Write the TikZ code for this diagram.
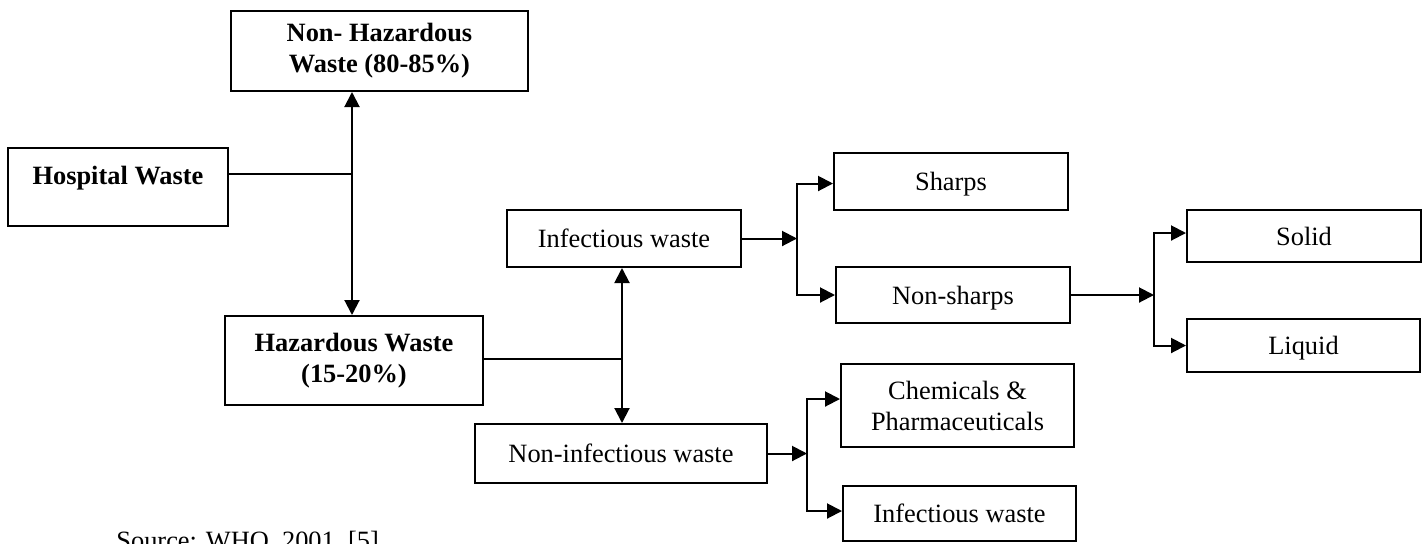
\documentclass[tikz,border=0pt]{standalone}
\usepackage{fontspec}
\setmainfont{Liberation Serif}
\usetikzlibrary{arrows.meta}
\newcommand\diagfont{\fontsize{13.2}{15.5}\selectfont}
\begin{document}
\begin{tikzpicture}[x=0.5pt,y=-0.5pt,
  box/.style={draw, line width=1pt, inner sep=0pt, font=\diagfont, align=center},
  bbox/.style={box, font=\diagfont\bfseries},
  one/.style={text height=9pt, text depth=0pt},
  arr/.style={line width=1pt, -{Triangle[length=7.5pt,width=7.5pt]}},
  conn/.style={line width=1pt}]
\useasboundingbox (0,0) rectangle (1425,543);
% nodes
\node[bbox, minimum width=148.5pt, minimum height=40pt] (nh) at (379.5,51) {Non- Hazardous\\Waste (80-85\%)};
\node[bbox, minimum width=110pt, minimum height=39pt, text height=9pt, text depth=12pt] (hosp) at (118,187) {Hospital Waste};
\node[bbox, minimum width=129pt, minimum height=44.5pt] (haz) at (354,360.5) {Hazardous Waste\\(15-20\%)};
\node[box, one, minimum width=117pt, minimum height=28.5pt] (inf) at (624,238.5) {Infectious waste};
\node[box, one, minimum width=146pt, minimum height=29.5pt] (ninf) at (621,453.5) {Non-infectious waste};
\node[box, one, minimum width=117pt, minimum height=28.5pt] (sharps) at (951,181.5) {Sharps};
\node[box, one, minimum width=117pt, minimum height=28pt] (nsharps) at (953,295) {Non-sharps};
\node[box, one, minimum width=117pt, minimum height=26pt] (solid) at (1304,236) {Solid};
\node[box, one, minimum width=116.5pt, minimum height=26.5pt] (liquid) at (1303.5,345.5) {Liquid};
\node[box, minimum width=116.5pt, minimum height=41.5pt] (chem) at (957.5,405.5) {Chemicals \&\\Pharmaceuticals};
\node[box, one, minimum width=116.5pt, minimum height=27.5pt] (inf2) at (959.5,513.5) {Infectious waste};
\node[font=\diagfont, anchor=base west, inner sep=0pt] (src) at (116,549) {Source: WHO, 2001, [5]};
% junctions
\coordinate (j1) at (352,174);
\coordinate (j2) at (622,359);
\coordinate (j3) at (797,238.5);
\coordinate (j4) at (1154,295);
\coordinate (j5) at (807,453.5);
% connectors
\draw[conn] (hosp.east |- j1) -- (j1);
\draw[arr] (j1) -- (j1 |- nh.south);
\draw[arr] (j1) -- (j1 |- haz.north);
\draw[conn] (haz.east |- j2) -- (j2);
\draw[arr] (j2) -- (j2 |- inf.south);
\draw[arr] (j2) -- (j2 |- ninf.north);
\draw[arr] (inf.east) -- (j3);
\draw[arr] (j3) |- ([yshift=-1pt]sharps.west);
\draw[arr] (j3) |- (nsharps.west);
\draw[arr] (nsharps.east) -- (j4);
\draw[arr] (j4) |- ([yshift=1.5pt]solid.west);
\draw[arr] (j4) |- (liquid.west);
\draw[arr] (ninf.east) -- (j5);
\draw[arr] (j5) |- ([yshift=3.25pt]chem.west);
\draw[arr] (j5) |- ([yshift=1.25pt]inf2.west);
\end{tikzpicture}
\end{document}
